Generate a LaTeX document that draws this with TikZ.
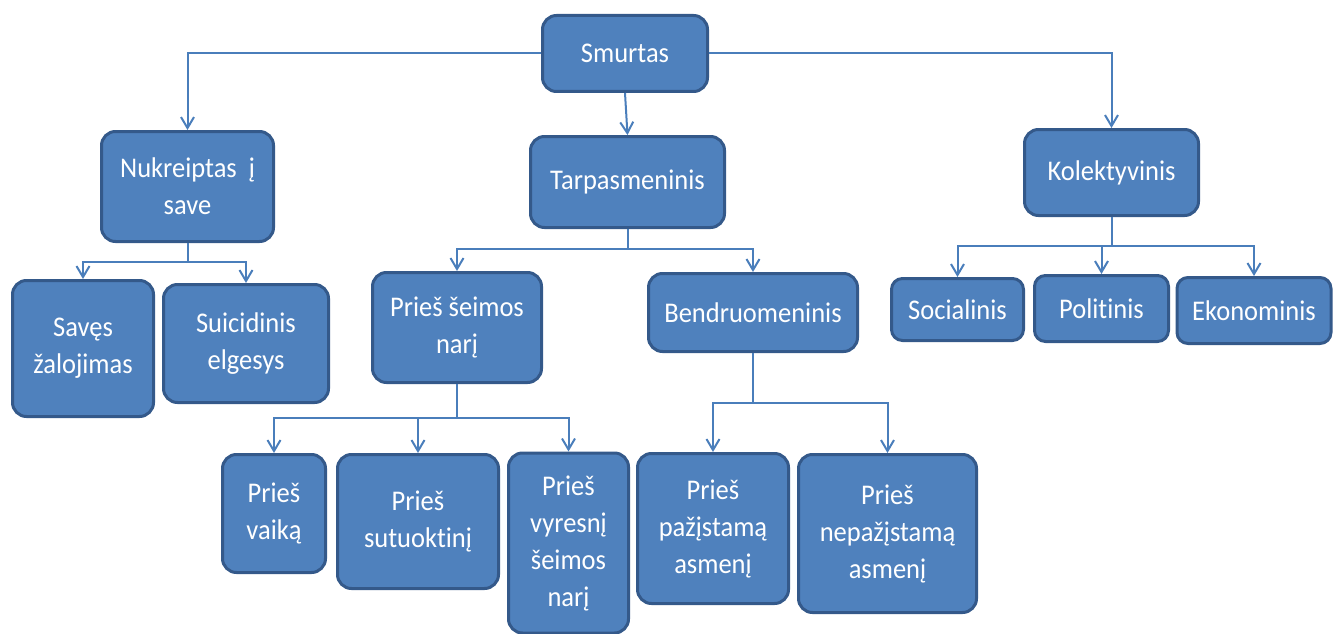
\documentclass[tikz,border=0pt]{standalone}
\usepackage{fontspec}
\setmainfont[RawFeature={-liga}, FakeStretch=0.93]{Carlito}
\usetikzlibrary{arrows.meta}
\definecolor{boxfill}{HTML}{4F81BD}
\definecolor{boxline}{HTML}{34598A}
\definecolor{conn}{HTML}{4A7EBB}
\tikzset{
  box/.style={draw=boxline, fill=boxfill, line width=3pt, rounded corners=14pt,
    text=white, align=center, inner sep=0pt,
    font=\fontsize{28.5}{37}\selectfont},
  arr/.style={draw=conn, line width=2pt,
    -{Straight Barb[length=11pt,width=13pt,line width=2pt]}},
  ln/.style={draw=conn, line width=2pt}
}
\begin{document}
\begin{tikzpicture}[x=1pt,y=-1pt]
\useasboundingbox (0,0) rectangle (1334,634);
% boxes
\node[box, minimum width=165pt, minimum height=76pt] (smurtas) at (625,53.5) {Smurtas};
\node[box, minimum width=172pt, minimum height=110pt] (nuk) at (187.5,186.5) {Nukreiptas \ į\\save};
\node[box, minimum width=194pt, minimum height=91pt] (tarp) at (627.5,182) {Tarpasmeninis};
\node[box, minimum width=174pt, minimum height=86pt] (kol) at (1111.5,172.5) {Kolektyvinis};
\node[box, minimum width=141pt, minimum height=136pt] (saves) at (83,348.5) {Savęs\\žalojimas};
\node[box, minimum width=165pt, minimum height=118pt] (suic) at (246,343.5) {Suicidinis\\elgesys};
\node[box, minimum width=169pt, minimum height=110pt] (seim) at (457,327.5) {Prieš šeimos\\narį};
\node[box, minimum width=209pt, minimum height=78pt] (bend) at (753,312.5) {Bendruomeninis};
\node[box, minimum width=132pt, minimum height=62pt, rounded corners=11pt] (soc) at (957.5,309.5) {Socialinis};
\node[box, minimum width=134pt, minimum height=66pt, rounded corners=11pt] (pol) at (1101.5,308.5) {Politinis};
\node[box, minimum width=154pt, minimum height=66pt, rounded corners=11pt] (eko) at (1254,310.5) {Ekonominis};
\node[box, minimum width=103pt, minimum height=118pt] (vaik) at (274,513.5) {Prieš\\vaiką};
\node[box, minimum width=161pt, minimum height=134pt] (sut) at (418,521.5) {Prieš\\sutuoktinį};
\node[box, minimum width=120pt, minimum height=180pt] (vyr) at (568.5,543) {Prieš\\vyresnį\\šeimos\\narį};
\node[box, minimum width=151pt, minimum height=150pt] (paz) at (713,528.5) {Prieš\\pažįstamą\\asmenį};
\node[box, minimum width=178pt, minimum height=158pt] (nepaz) at (887.5,533.5) {Prieš\\nepažįstamą\\asmenį};
% junction coordinates
\coordinate (jn) at (187.5,262);
\coordinate (jt) at (627.5,249);
\coordinate (js) at (457,418);
\coordinate (jb) at (753,403);
\coordinate (jk) at (1111.5,246);
\coordinate (jkp) at (1101.5,246);
% connectors
\draw[arr] (smurtas.west) -| (nuk.north);
\draw[arr] (smurtas.east) -| (kol.north);
\draw[arr] (smurtas.south) -- (tarp.north);
\draw[ln] (nuk.south) -- (jn);
\draw[arr] (jn) -| (saves.north);
\draw[arr] (jn) -| (suic.north);
\draw[ln] (tarp.south) -- (jt);
\draw[arr] (jt) -| (seim.north);
\draw[arr] (jt) -| (bend.north);
\draw[ln] (seim.south) -- (js);
\draw[arr] (js) -| (vaik.north);
\draw[arr] (js) -| (sut.north);
\draw[arr] (js) -| (vyr.north);
\draw[ln] (bend.south) -- (jb);
\draw[arr] (jb) -| (paz.north);
\draw[arr] (jb) -| (nepaz.north);
\draw[ln] (kol.south) -- (jk);
\draw[arr] (jk) -| (soc.north);
\draw[arr] (jk) -| (eko.north);
\draw[arr] (jkp) -- (pol.north);
\end{tikzpicture}
\end{document}
